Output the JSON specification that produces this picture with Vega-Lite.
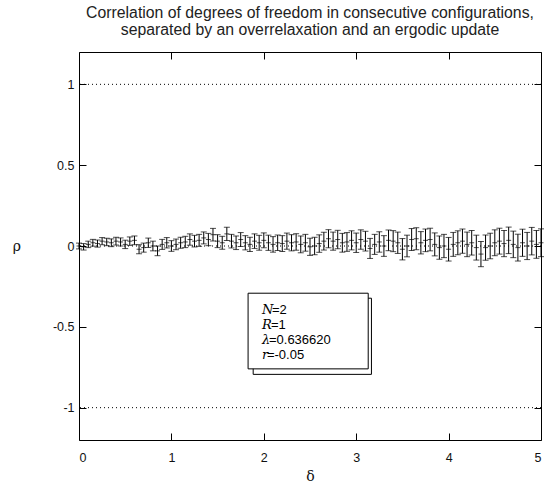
{
  "$schema": "https://vega.github.io/schema/vega-lite/v6.json",
  "width": 462,
  "height": 388,
  "autosize": {"type": "none"},
  "padding": {"left": 79, "top": 52, "right": 9, "bottom": 48},
  "background": "white",
  "config": {"view": {"stroke": "black", "strokeWidth": 1}, "font": "Liberation Sans"},
  "title": {
    "text": ["Correlation of degrees of freedom in consecutive configurations,", "separated by an overrelaxation and an ergodic update"],
    "fontSize": 15.8, "fontWeight": "normal", "color": "#222222", "anchor": "middle", "offset": 13, "lineHeight": 16.5, "font": "Liberation Sans"
  },
  "datasets": {
    "pts": [
      {"d":0.00,"rho":0.000,"err":0.018},{"d":0.05,"rho":-0.005,"err":0.020},{"d":0.10,"rho":0.010,"err":0.020},{"d":0.15,"rho":0.020,"err":0.021},{"d":0.20,"rho":0.015,"err":0.022},
      {"d":0.25,"rho":0.030,"err":0.022},{"d":0.30,"rho":0.025,"err":0.023},{"d":0.35,"rho":0.020,"err":0.024},{"d":0.40,"rho":0.030,"err":0.024},{"d":0.45,"rho":0.025,"err":0.025},
      {"d":0.50,"rho":0.010,"err":0.026},{"d":0.55,"rho":0.030,"err":0.026},{"d":0.60,"rho":0.035,"err":0.027},{"d":0.65,"rho":-0.020,"err":0.028},{"d":0.70,"rho":-0.010,"err":0.028},
      {"d":0.75,"rho":0.020,"err":0.029},{"d":0.80,"rho":0.000,"err":0.030},{"d":0.85,"rho":-0.030,"err":0.030},{"d":0.90,"rho":0.010,"err":0.031},{"d":0.95,"rho":0.020,"err":0.032},
      {"d":1.00,"rho":0.000,"err":0.033},{"d":1.05,"rho":0.010,"err":0.033},{"d":1.10,"rho":0.020,"err":0.034},{"d":1.15,"rho":0.025,"err":0.035},{"d":1.20,"rho":0.040,"err":0.035},
      {"d":1.25,"rho":0.030,"err":0.036},{"d":1.30,"rho":0.035,"err":0.037},{"d":1.35,"rho":0.050,"err":0.037},{"d":1.40,"rho":0.040,"err":0.038},{"d":1.45,"rho":0.070,"err":0.039},
      {"d":1.50,"rho":0.030,"err":0.040},{"d":1.55,"rho":0.020,"err":0.040},{"d":1.60,"rho":0.075,"err":0.041},{"d":1.65,"rho":0.030,"err":0.042},{"d":1.70,"rho":0.020,"err":0.042},
      {"d":1.75,"rho":0.040,"err":0.043},{"d":1.80,"rho":0.020,"err":0.044},{"d":1.85,"rho":0.010,"err":0.044},{"d":1.90,"rho":0.030,"err":0.045},{"d":1.95,"rho":0.020,"err":0.046},
      {"d":2.00,"rho":0.035,"err":0.046},{"d":2.05,"rho":0.020,"err":0.047},{"d":2.10,"rho":0.010,"err":0.048},{"d":2.15,"rho":0.020,"err":0.048},{"d":2.20,"rho":0.015,"err":0.049},
      {"d":2.25,"rho":0.030,"err":0.050},{"d":2.30,"rho":0.020,"err":0.050},{"d":2.35,"rho":0.025,"err":0.051},{"d":2.40,"rho":0.010,"err":0.052},{"d":2.45,"rho":0.020,"err":0.052},
      {"d":2.50,"rho":-0.005,"err":0.053},{"d":2.55,"rho":0.000,"err":0.054},{"d":2.60,"rho":0.015,"err":0.054},{"d":2.65,"rho":0.030,"err":0.055},{"d":2.70,"rho":0.045,"err":0.056},
      {"d":2.75,"rho":0.030,"err":0.056},{"d":2.80,"rho":0.040,"err":0.057},{"d":2.85,"rho":0.020,"err":0.058},{"d":2.90,"rho":0.025,"err":0.058},{"d":2.95,"rho":0.035,"err":0.059},
      {"d":3.00,"rho":0.020,"err":0.060},{"d":3.05,"rho":0.040,"err":0.060},{"d":3.10,"rho":0.030,"err":0.061},{"d":3.15,"rho":-0.015,"err":0.062},{"d":3.20,"rho":0.010,"err":0.062},
      {"d":3.25,"rho":0.025,"err":0.063},{"d":3.30,"rho":0.000,"err":0.064},{"d":3.35,"rho":0.035,"err":0.064},{"d":3.40,"rho":0.030,"err":0.065},{"d":3.45,"rho":0.020,"err":0.066},
      {"d":3.50,"rho":-0.020,"err":0.066},{"d":3.55,"rho":0.000,"err":0.067},{"d":3.60,"rho":0.040,"err":0.068},{"d":3.65,"rho":0.045,"err":0.068},{"d":3.70,"rho":0.020,"err":0.069},
      {"d":3.75,"rho":0.035,"err":0.070},{"d":3.80,"rho":0.040,"err":0.070},{"d":3.85,"rho":0.010,"err":0.071},{"d":3.90,"rho":-0.010,"err":0.072},{"d":3.95,"rho":0.000,"err":0.072},
      {"d":4.00,"rho":-0.020,"err":0.073},{"d":4.05,"rho":0.010,"err":0.074},{"d":4.10,"rho":0.020,"err":0.074},{"d":4.15,"rho":0.030,"err":0.075},{"d":4.20,"rho":0.010,"err":0.076},
      {"d":4.25,"rho":0.020,"err":0.076},{"d":4.30,"rho":-0.010,"err":0.077},{"d":4.35,"rho":-0.050,"err":0.078},{"d":4.40,"rho":-0.010,"err":0.078},{"d":4.45,"rho":0.000,"err":0.079},
      {"d":4.50,"rho":0.020,"err":0.080},{"d":4.55,"rho":0.030,"err":0.080},{"d":4.60,"rho":0.015,"err":0.081},{"d":4.65,"rho":0.035,"err":0.082},{"d":4.70,"rho":0.010,"err":0.082},
      {"d":4.75,"rho":-0.010,"err":0.083},{"d":4.80,"rho":0.020,"err":0.084},{"d":4.85,"rho":0.000,"err":0.084},{"d":4.90,"rho":0.030,"err":0.085},{"d":4.95,"rho":0.010,"err":0.086},
      {"d":5.00,"rho":0.020,"err":0.086}
    ],
    "refs": [{"y": -1}, {"y": 0}, {"y": 1}],
    "legend": [
      {"sym": "N", "rest": "=2", "ly": -0.397, "off": 10},
      {"sym": "R", "rest": "=1", "ly": -0.489, "off": 9},
      {"sym": "λ", "rest": "=0.636620", "ly": -0.582, "off": 7},
      {"sym": "r", "rest": "=-0.05", "ly": -0.674, "off": 5}
    ]
  },
  "layer": [
    {
      "data": {"name": "refs"},
      "mark": {"type": "rule", "color": "black", "strokeWidth": 1, "strokeDash": [1, 3]},
      "encoding": {
        "y": {"field": "y", "type": "quantitative",
          "scale": {"domain": [-1.2, 1.2], "nice": false, "zero": false},
          "axis": {"values": [-1, -0.5, 0, 0.5, 1], "labelExpr": "datum.value + ''", "grid": false, "domain": false,
            "offset": -7, "tickSize": 7, "tickColor": "black", "labelFontSize": 12.5, "labelColor": "#111111", "labelPadding": 5, "labelFont": "Liberation Sans",
            "title": "ρ", "titleAngle": 0, "titleFont": "DejaVu Serif", "titleFontWeight": "normal", "titleFontSize": 14, "titleColor": "#111111", "titlePadding": 36, "titleBaseline": "middle"}
        }
      }
    },
    {
      "data": {"name": "pts"},
      "mark": {"type": "errorbar", "color": "black", "thickness": 1, "ticks": {"size": 6, "color": "black", "thickness": 1}},
      "encoding": {
        "x": {"field": "d", "type": "quantitative",
          "scale": {"domain": [0, 5], "nice": false, "zero": false},
          "axis": {"values": [0, 1, 2, 3, 4, 5], "grid": false, "domain": false, "offset": -7, "tickSize": 7, "tickColor": "black",
            "labelFontSize": 12.5, "labelColor": "#111111", "labelPadding": 11, "labelFont": "Liberation Sans",
            "title": "δ", "titleFont": "DejaVu Serif", "titleFontWeight": "normal", "titleFontSize": 14, "titleColor": "#111111", "titlePadding": 6}
        },
        "y": {"field": "rho", "type": "quantitative", "axis": null},
        "yError": {"field": "err"}
      }
    },
    {
      "data": {"name": "pts"},
      "mark": {"type": "tick", "orient": "horizontal", "size": 5, "thickness": 1, "color": "black"},
      "encoding": {
        "x": {"field": "d", "type": "quantitative", "axis": null},
        "y": {"field": "rho", "type": "quantitative", "axis": null}
      }
    },
    {
      "data": {"values": [{}]},
      "mark": {"type": "rect", "fill": "white", "stroke": "black", "strokeWidth": 1},
      "encoding": {
        "x": {"datum": 1.885, "axis": null}, "x2": {"datum": 3.165},
        "y": {"datum": -0.323, "axis": null}, "y2": {"datum": -0.794}
      }
    },
    {
      "data": {"values": [{}]},
      "mark": {"type": "rect", "fill": "white", "stroke": "black", "strokeWidth": 1},
      "encoding": {
        "x": {"datum": 1.83, "axis": null}, "x2": {"datum": 3.13},
        "y": {"datum": -0.292, "axis": null}, "y2": {"datum": -0.760}
      }
    },
    {
      "data": {"name": "legend"},
      "mark": {"type": "text", "align": "left", "baseline": "middle", "font": "DejaVu Serif", "fontStyle": "italic", "fontSize": 13, "color": "black"},
      "encoding": {
        "x": {"datum": 1.98, "axis": null},
        "y": {"field": "ly", "type": "quantitative", "axis": null},
        "text": {"field": "sym"}
      }
    },
    {
      "data": {"name": "legend"},
      "mark": {"type": "text", "align": "left", "baseline": "middle", "font": "Liberation Sans", "fontSize": 13, "color": "black"},
      "encoding": {
        "x": {"datum": 1.98, "axis": null},
        "y": {"field": "ly", "type": "quantitative", "axis": null},
        "xOffset": {"field": "off", "type": "quantitative", "scale": null},
        "text": {"field": "rest"}
      }
    },
    {
      "data": {"values": [{}]},
      "mark": {"type": "rule", "opacity": 0},
      "encoding": {
        "x": {"datum": 0, "axis": {"orient": "top", "values": [0, 1, 2, 3, 4, 5], "labels": false, "domain": false, "grid": false, "offset": -7, "tickSize": 7, "tickColor": "black", "title": null}},
        "y": {"datum": 0, "axis": {"orient": "right", "values": [-1, -0.5, 0, 0.5, 1], "labels": false, "domain": false, "grid": false, "offset": -7, "tickSize": 7, "tickColor": "black", "title": null}}
      }
    }
  ],
  "resolve": {"axis": {"x": "independent", "y": "independent"}}
}
